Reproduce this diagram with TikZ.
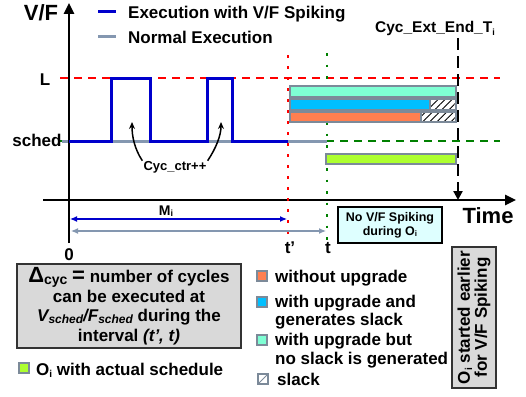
\documentclass[tikz,border=0pt]{standalone}
\usepackage{fontspec}
\setmainfont{Liberation Sans}
\usetikzlibrary{positioning,arrows.meta,patterns.meta}

\definecolor{spike}{RGB}{0,0,204}
\definecolor{normal}{RGB}{132,151,176}
\definecolor{frame}{RGB}{124,138,153}
\definecolor{noslack}{RGB}{127,255,212}
\definecolor{withslack}{RGB}{0,191,255}
\definecolor{noupg}{RGB}{255,127,80}
\definecolor{actual}{RGB}{173,255,47}
\definecolor{note}{RGB}{217,217,217}
\definecolor{notecyan}{RGB}{222,255,255}
\definecolor{lvlgreen}{RGB}{0,128,0}

\newcommand{\lo}[2][11]{\raisebox{-0.25ex}{\fontsize{#1}{#1}\selectfont #2}}

\begin{document}
\begin{tikzpicture}[x=1pt,y=-1pt,
    every node/.style={inner sep=0pt,font=\fontsize{17}{19}\selectfont\bfseries},
    big/.style={font=\fontsize{22}{22}\selectfont\bfseries},
    axisline/.style={line width=2.5pt,-{Triangle[length=11pt,width=10pt]}},
    bar/.style={draw=frame,line width=2.5pt},
    swatch/.style={draw=frame,line width=1.5pt,minimum size=10pt},
    slack/.style={preaction={fill=white},pattern={Lines[angle=45,distance=5pt,line width=0.9pt]}},
    span/.style={line width=1.2pt,{Latex[length=7pt,width=6pt]}-{Latex[length=7pt,width=6pt]}}]
  \useasboundingbox (0,0) rectangle (526,396);

  % axes and levels
  \coordinate (org) at (69,200);
  \draw[red,line width=2.5pt,dash pattern=on 8pt off 6pt] (60,78) -- (500,78);
  \draw[lvlgreen,line width=2.5pt,dash pattern=on 8pt off 6pt] (60,141) -- (500,141);
  \draw[normal,line width=3pt] (62,141) -- (327,141);
  \draw[axisline] (69,243) -- (69,3);
  \draw[axisline] (43,200) -- (516,200);
  \node[big,anchor=base] (vf) at (41,21) {V/F};
  \node[big,anchor=base] (time) at (488,223) {Time};
  \node[anchor=base] (lvl) at (45,85) {L};
  \node[anchor=base] (sched) at (37,146) {sched};

  % legend
  \draw[spike,line width=3pt] (98,12) -- (116,12);
  \node[anchor=base west] (lspike) at (128,18.5) {Execution with V/F Spiking};
  \draw[normal,line width=3pt] (98,37) -- (116,37);
  \node[anchor=base west] (lnormal) at (128,43) {Normal Execution};

  % spiking trace
  \draw[spike,line width=3pt] (69,141) -- (111,141) -- (111,78) -- (150,78) -- (150,141)
    -- (207,141) -- (207,78) -- (232,78) -- (232,141) -- (288,141);
  \node[anchor=base,font=\fontsize{13}{13}\selectfont\bfseries] (ctr) at (175,170) {Cyc\_ctr++};
  \draw[line width=1.5pt,-{Stealth[length=7pt,width=6pt]}] ([xshift=-1pt]ctr.north west)
    .. controls +(-8,-12) and +(0,14) .. (132,122);
  \draw[line width=1.5pt,-{Stealth[length=7pt,width=6pt]}] ([xshift=1pt]ctr.north east)
    .. controls +(8,-12) and +(0,14) .. (221,122);

  % t' and t
  \draw[red,line width=2.2pt,dash pattern=on 2.5pt off 8.5pt] (288,55) -- (288,236);
  \draw[lvlgreen,line width=2.2pt,dash pattern=on 2.5pt off 9pt] (327,53) -- (327,242);
  \node[anchor=base] (zero) at (69,260) {0};
  \node[anchor=base] (tprime) at (290,253) {t'};
  \node[anchor=base] (tnow) at (328,253) {t};
  \node[anchor=base,font=\fontsize{14}{14}\selectfont\bfseries] (mi) at (166,215) {M\lo[9]{i}};
  \draw[spike,span] (70,219) -- (287,219);
  \draw[normal,span] (71,231) -- (326,231);

  % execution bars
  \draw[bar,fill=noslack] (290,86) rectangle (456,97.5);
  \draw[bar,fill=withslack] (290,99) rectangle (430,110.5);
  \draw[bar,slack] (430,99) rectangle (456,110.5);
  \draw[bar,fill=noupg] (290,112) rectangle (421,122);
  \draw[bar,slack] (421,112) rectangle (456,122);
  \draw[bar,fill=actual] (326,154) rectangle (456,164);

  % end of extended cycles
  \coordinate (endT) at (458,38);
  \node[anchor=base,font=\fontsize{15.5}{17}\selectfont\bfseries] (ext) at (435,33) {Cyc\_Ext\_End\_T\lo[9]{i}};
  \draw[line width=2.5pt,dash pattern=on 12pt off 6pt,-{Triangle[length=9pt,width=9pt]}] (endT) -- (458,200);

  % notes
  \node[draw,line width=2pt,fill=notecyan,minimum width=104pt,minimum height=36pt,align=center,
    font=\fontsize{12.5}{14}\selectfont\bfseries] (nospike) at (390,225) {No V/F Spiking\\during O\lo[8]{i}};
  \node[draw=black!80,line width=1.5pt,fill=note,rotate=90,minimum width=141pt,minimum height=44pt,
    align=center,font=\fontsize{17}{17}\selectfont\bfseries] (earlier) at (474,317.5)
    {O\lo[10]{i} started earlier\\for V/F Spiking};
  \node[draw=black!80,line width=1.5pt,fill=note,minimum width=224pt,minimum height=84pt,align=center,
    font=\fontsize{17}{19.5}\selectfont\bfseries] (delta) at (129,306)
    {{\fontsize{22}{19.5}\selectfont Δ}\lo[14]{cyc} {\fontsize{22}{19.5}\selectfont =} number of cycles\\
     can be executed at\\
     \textit{V\lo[12]{sched}/F\lo[12]{sched}} during the\\
     interval \textit{(t', t)}};

  % key
  \node[swatch,fill=actual] (kact) at (24,368) {};
  \node[anchor=base west] (lact) at (36,375) {O\lo[10]{i} with actual schedule};
  \node[swatch,fill=noupg] (knoup) at (262,276) {};
  \node[anchor=base west] (lnoup) at (275,282) {without upgrade};
  \node[swatch,fill=withslack] (kslack) at (262,302) {};
  \node[anchor=base west] (lslack) at (275,307) {with upgrade and};
  \node[anchor=base west] (lslack2) at (275,325) {generates slack};
  \node[swatch,fill=noslack] (knoslack) at (262,340) {};
  \node[anchor=base west] (lnoslack) at (275,345) {with upgrade but};
  \node[anchor=base west] (lnoslack2) at (275,364) {no slack is generated};
  \node[swatch,fill=white,path picture={\draw[line width=1pt]
    (path picture bounding box.south west) -- (path picture bounding box.north east);}] (khatch) at (263,379) {};
  \node[anchor=base west] (lhatch) at (277,385) {slack};
\end{tikzpicture}
\end{document}
